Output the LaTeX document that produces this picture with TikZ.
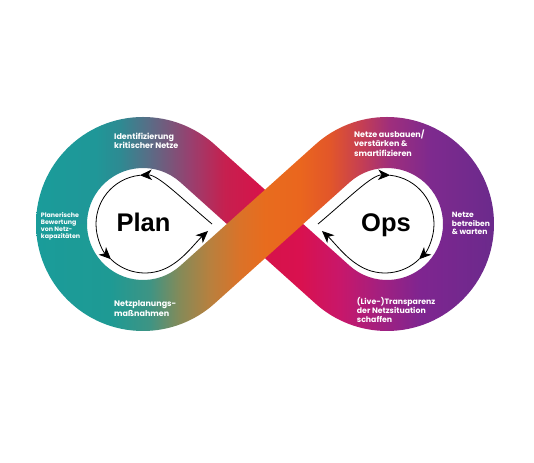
\documentclass[tikz,border=0pt]{standalone}
\usepackage{fontspec}
\setmainfont{Liberation Sans}
\newfontfamily\lblfont{Poppins}
\usetikzlibrary{arrows.meta,calc}

\definecolor{aA}{HTML}{1A9C9A}
\definecolor{aB}{HTML}{1F9798}
\definecolor{aC}{HTML}{2E8A92}
\definecolor{aD}{HTML}{5A6C86}
\definecolor{aE}{HTML}{98406F}
\definecolor{aF}{HTML}{C6204F}
\definecolor{aG}{HTML}{D6134A}
\definecolor{aH}{HTML}{D9114F}
\definecolor{aI}{HTML}{C8176A}
\definecolor{aJ}{HTML}{A22080}
\definecolor{aK}{HTML}{7F2590}
\definecolor{aL}{HTML}{6B2A8C}

\definecolor{bA}{HTML}{1A9C9A}
\definecolor{bB}{HTML}{1E9A94}
\definecolor{bC}{HTML}{3E9484}
\definecolor{bD}{HTML}{858A58}
\definecolor{bE}{HTML}{B8803E}
\definecolor{bF}{HTML}{DB7228}
\definecolor{bG}{HTML}{E86C1E}
\definecolor{bH}{HTML}{EA661E}
\definecolor{bI}{HTML}{E2562A}
\definecolor{bJ}{HTML}{C63F52}
\definecolor{bK}{HTML}{9F2E7C}
\definecolor{bL}{HTML}{7E2A8E}
\definecolor{bM}{HTML}{6B2A8C}

\pgfdeclarehorizontalshading{shA}{100bp}{color(0bp)=(aA); color(25bp)=(aA); color(31.5bp)=(aB); color(34.2bp)=(aC); color(37.4bp)=(aD); color(41.8bp)=(aE); color(45.6bp)=(aF); color(49.5bp)=(aG); color(53.8bp)=(aH); color(58.2bp)=(aI); color(62.6bp)=(aJ); color(66.9bp)=(aK); color(75bp)=(aL); color(100bp)=(aL)}
\pgfdeclarehorizontalshading{shB}{100bp}{color(0bp)=(bA); color(25bp)=(bA); color(33.1bp)=(bB); color(37.4bp)=(bC); color(40.7bp)=(bD); color(44bp)=(bE); color(47.3bp)=(bF); color(50bp)=(bG); color(53.8bp)=(bH); color(57.1bp)=(bI); color(60.4bp)=(bJ); color(63.6bp)=(bK); color(68bp)=(bL); color(75bp)=(bM); color(100bp)=(bM)}

\tikzset{
  loopline/.style={draw=black, line width=0.8pt},
  tipp/.style={-{Stealth[length=12pt,width=10.5pt,inset=3.5pt]}},
  lbl/.style={text=white, align=left, anchor=north west, inner sep=0pt},
  big/.style={font=\fontsize{25.5}{30}\selectfont\bfseries, text=black, anchor=base, inner sep=0pt}
}

\begin{document}
\begin{tikzpicture}[x=1pt,y=1pt]
\fill[white] (0,0) rectangle (534,462);
\useasboundingbox (0,0) rectangle (534,462);

\coordinate (CL) at (143,238);
\coordinate (CR) at (387,238);

% under band (teal - red - purple)
\begin{scope}
\clip (36,238) arc[start angle=180,end angle=48.1,radius=107]
  -- ($(CR)+(228.1:56)$) arc[start angle=228.1,end angle=360,radius=56]
  -- (494,238) arc[start angle=0,end angle=-131.9,radius=107]
  -- ($(CL)+(48.1:56)$) arc[start angle=48.1,end angle=180,radius=56] -- cycle;
\shade[shading=shA] (36,131) rectangle (494,345);
\end{scope}

% over band (teal - orange - purple)
\begin{scope}
\clip (36,238) arc[start angle=180,end angle=311.9,radius=107]
  -- ($(CR)+(131.9:56)$) arc[start angle=131.9,end angle=0,radius=56]
  -- (494,238) arc[start angle=0,end angle=131.9,radius=107]
  -- ($(CL)+(311.9:56)$) arc[start angle=311.9,end angle=180,radius=56] -- cycle;
\shade[shading=shB] (36,131) rectangle (494,345);
\end{scope}

% Plan loop
\coordinate (LS) at (212,238);
\coordinate (LP1) at ($(145,238)+(96:49)$);
\coordinate (LP2) at ($(145,238)+(226:49)$);
\coordinate (LE) at (208,231);
\draw[loopline,tipp] (LS) .. controls (181.4,263.7) and (158,287.5) .. (LP1);
\draw[loopline,tipp] (LP1) arc[start angle=96,end angle=226,radius=49];
\draw[loopline,tipp] (LP2) arc[start angle=226,end angle=300,radius=49] .. controls (185,204.5) and (195,219) .. (LE);

% Ops loop (mirror)
\begin{scope}[shift={(530,0)},xscale=-1]
\coordinate (RS) at (212,238);
\coordinate (RP1) at ($(145,238)+(96:49)$);
\coordinate (RP2) at ($(145,238)+(226:49)$);
\coordinate (RE) at (208,231);
\draw[loopline,tipp] (RS) .. controls (181.4,263.7) and (158,287.5) .. (RP1);
\draw[loopline,tipp] (RP1) arc[start angle=96,end angle=226,radius=49];
\draw[loopline,tipp] (RP2) arc[start angle=226,end angle=300,radius=49] .. controls (185,204.5) and (195,219) .. (RE);
\end{scope}

\node[big] (plan) at (143.5,230) {Plan};
\node[big] (ops) at (386,230) {Ops};

\node[lbl, font=\lblfont\bfseries\fontsize{8}{9.3}\selectfont] (l1) at (114,329) {Identifizierung\\kritischer Netze};
\node[lbl, font=\lblfont\bfseries\fontsize{8}{9.3}\selectfont] (l2) at (354,332.3) {Netze ausbauen/\\verstärken \&\\smartifizieren};
\node[lbl, font=\lblfont\bfseries\fontsize{6.3}{7}\selectfont] (l3) at (40.7,249.4) {Planerische\\Bewertung\\von Netz-\\kapazitäten};
\node[lbl, font=\lblfont\bfseries\fontsize{7.6}{8.8}\selectfont] (l4) at (451.7,250.3) {Netze\\betreiben\\\& warten};
\node[lbl, font=\lblfont\bfseries\fontsize{8}{9.3}\selectfont] (l5) at (114,161.3) {Netzplanungs-\\maßnahmen};
\node[lbl, font=\lblfont\bfseries\fontsize{7.8}{8.3}\selectfont] (l6) at (356.7,164.8) {(Live-)Transparenz\\der Netzsituation\\schaffen};
\end{tikzpicture}
\end{document}
